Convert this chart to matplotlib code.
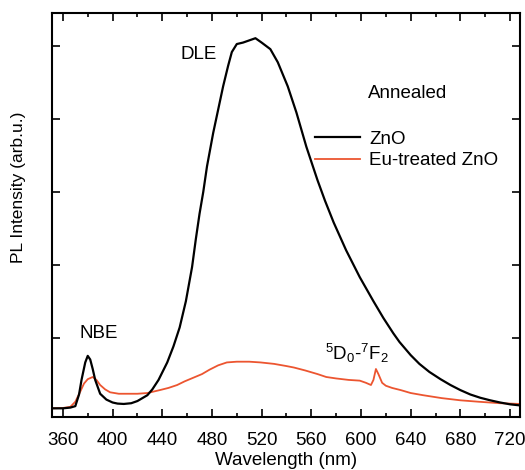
import matplotlib
matplotlib.use("Agg")
import matplotlib.pyplot as plt
from matplotlib.ticker import MultipleLocator, FixedLocator, NullFormatter

plt.rcParams['font.family'] = ['Liberation Sans', 'DejaVu Sans']
plt.rcParams['mathtext.fontset'] = 'custom'
plt.rcParams['mathtext.rm'] = 'Liberation Sans'
plt.rcParams['mathtext.it'] = 'Liberation Sans:italic'
plt.rcParams['mathtext.bf'] = 'Liberation Sans:bold'

# ZnO (black)
zno_wl = [351, 360, 366, 370, 373, 375, 378, 380, 382, 384, 386, 390, 395, 400, 404,
          409, 415, 420, 428, 432, 437, 444, 449, 454, 459, 464, 467, 470, 473, 476,
          481, 485, 489, 493, 496, 500, 505, 510, 515, 520, 527, 533, 541, 548, 556,
          565, 571, 578, 588, 599, 610, 618, 626, 631, 640, 647, 655, 664, 672, 680,
          688, 696, 704, 712, 720, 728]
zno_int = [0.03, 0.03, 0.04, 0.06, 0.22, 0.42, 0.66, 0.75, 0.70, 0.57, 0.42, 0.23, 0.15,
           0.11, 0.095, 0.09, 0.10, 0.13, 0.21, 0.29, 0.42, 0.66, 0.88, 1.14, 1.50, 1.97,
           2.35, 2.70, 3.00, 3.35, 3.81, 4.13, 4.45, 4.73, 4.92, 5.03, 5.05, 5.08, 5.11,
           5.05, 4.96, 4.78, 4.45, 4.09, 3.62, 3.16, 2.88, 2.58, 2.20, 1.83, 1.50, 1.27,
           1.06, 0.94, 0.76, 0.64, 0.53, 0.43, 0.35, 0.28, 0.22, 0.175, 0.14, 0.11,
           0.085, 0.07]

# Eu-treated ZnO (red)
eu_wl = [351, 360, 366, 370, 374, 377, 380, 384, 387, 390, 394, 398, 405, 412, 420,
         428, 438, 445, 452, 458, 465, 472, 478, 485, 492, 500, 510, 519, 530, 540,
         546, 555, 565, 572, 580, 590, 599, 604, 608, 610, 612, 614, 617, 620, 625,
         632, 640, 650, 665, 680, 695, 712, 728]
eu_int = [0.03, 0.035, 0.05, 0.12, 0.26, 0.37, 0.43, 0.46, 0.42, 0.35, 0.29, 0.25,
          0.23, 0.23, 0.23, 0.24, 0.28, 0.31, 0.35, 0.40, 0.45, 0.50, 0.56, 0.62, 0.66,
          0.67, 0.67, 0.66, 0.64, 0.61, 0.59, 0.55, 0.50, 0.46, 0.44, 0.42, 0.41, 0.38,
          0.35, 0.42, 0.57, 0.50, 0.38, 0.34, 0.31, 0.28, 0.24, 0.21, 0.17, 0.14, 0.12,
          0.10, 0.09]

x_ticks = [360, 400, 440, 480, 520, 560, 600, 640, 680, 720]
y_ticks = [1, 2, 3, 4, 5]

fig = plt.figure(figsize=(5.25, 4.7), dpi=100)
ax = fig.add_axes([0.0985, 0.1134, 0.892, 0.858])

ax.plot(zno_wl, zno_int, color='black', lw=1.6, label='ZnO', zorder=3)
ax.plot(eu_wl, eu_int, color='#EC5530', lw=1.3, label='Eu-treated ZnO', zorder=2)

ax.set_xlim(351, 728)
ax.set_ylim(-0.085, 5.45)
ax.xaxis.set_major_locator(FixedLocator(x_ticks))
ax.xaxis.set_minor_locator(MultipleLocator(20))
ax.yaxis.set_major_locator(FixedLocator(y_ticks))
ax.yaxis.set_major_formatter(NullFormatter())
ax.tick_params(which='both', direction='in', top=True, right=True, width=1.2)
ax.tick_params(which='major', length=5.5, labelsize=13.5)
ax.tick_params(axis='x', which='major', pad=11)
ax.tick_params(which='minor', length=3)
for s in ax.spines.values():
    s.set_linewidth(1.5)

ax.set_xlabel('Wavelength (nm)', fontsize=13.5, labelpad=2)
ax.set_ylabel('PL Intensity (arb.u.)', fontsize=12.5)
ax.yaxis.set_label_coords(-0.055, 0.57)

ax.text(469, 4.88, 'DLE', fontsize=13.5, ha='center', va='center')
ax.text(389, 1.056, 'NBE', fontsize=13.5, ha='center', va='center')
ax.text(605.5, 4.35, 'Annealed', fontsize=13.5, ha='left', va='center')
ax.text(571, 0.78, r'$^5$D$_0$-$^7$F$_2$', fontsize=13.5, ha='left', va='center')

leg = ax.legend(loc='upper left', bbox_to_anchor=(0.562, 0.71), frameon=False,
                fontsize=13.5, handlelength=2.4, handletextpad=0.5,
                labelspacing=0.25, borderpad=0, borderaxespad=0)

fig.savefig('out.png', dpi=100)
